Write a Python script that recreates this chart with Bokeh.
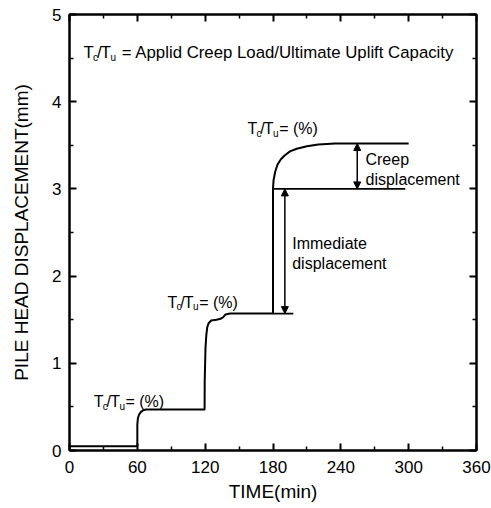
from bokeh.plotting import figure
from bokeh.models import (Range1d, LinearAxis, FixedTicker, Label, Arrow,
                          NormalHead)
from bokeh.embed import file_html
from bokeh.resources import INLINE

FONT = "Liberation Sans"

# Pile head displacement under staged creep loads (time in min, displacement in mm)
curve_time = [0, 60, 60, 60.5, 61.5, 63, 65, 67.5, 119.5,
              119.6, 120.3, 121.0, 121.8, 123.0, 125.3, 130.0, 133.6, 136.0,
              138.0, 142.0, 180.0,
              180.0, 180.5, 182.0, 184.0, 187.0, 190.0, 195.0, 201.0, 210.0,
              220.0, 235.0, 300.0]
curve_disp = [0.05, 0.05, 0.30, 0.37, 0.41, 0.44, 0.46, 0.47, 0.47,
              0.80, 1.18, 1.32, 1.41, 1.46, 1.49, 1.50, 1.51, 1.53,
              1.56, 1.57, 1.57,
              3.00, 3.10, 3.20, 3.28, 3.34, 3.38, 3.43, 3.46, 3.49,
              3.51, 3.52, 3.52]

# Reference levels used to mark immediate and creep displacement
ref_start_time = [180, 180]
ref_end_time = [198, 297]
ref_disp = [1.57, 3.00]

immediate_time = 190.5
immediate_from, immediate_to = 1.57, 3.00
creep_time = 254.5
creep_from, creep_to = 3.00, 3.52

x_ticks = [0, 60, 120, 180, 240, 300, 360]
x_minor = [30, 90, 150, 210, 270, 330]
y_ticks = [0, 1, 2, 3, 4, 5]
y_minor = [0.5, 1.5, 2.5, 3.5, 4.5]

p = figure(width=491, height=508, output_backend="svg", toolbar_location=None,
           x_range=Range1d(0, 360), y_range=Range1d(0, 5),
           x_axis_label="TIME(min)", y_axis_label="PILE HEAD DISPLACEMENT(mm)",
           min_border_left=69, min_border_right=15, min_border_top=14,
           min_border_bottom=58)
p.grid.visible = False
p.outline_line_color = "black"
p.outline_line_width = 2
p.background_fill_color = "white"
p.border_fill_color = "white"


def style_axis(ax, ticks, minor, show_labels=True):
    ax.ticker = FixedTicker(ticks=ticks, minor_ticks=minor)
    ax.axis_line_width = 2
    ax.major_tick_in = 7
    ax.major_tick_out = 0
    ax.minor_tick_in = 4
    ax.minor_tick_out = 0
    ax.major_tick_line_width = 2
    ax.minor_tick_line_width = 1.5
    ax.major_label_text_font = FONT
    ax.major_label_text_font_size = "17px"
    ax.major_label_text_color = "black"
    ax.axis_label_text_font = FONT
    ax.axis_label_text_font_size = "19px"
    ax.axis_label_text_font_style = "normal"
    ax.axis_label_text_color = "black"
    if not show_labels:
        ax.major_label_text_alpha = 0
        ax.major_label_text_font_size = "1px"


style_axis(p.xaxis[0], x_ticks, x_minor)
p.xaxis[0].major_label_standoff = 10
p.xaxis[0].axis_label_standoff = 5
style_axis(p.yaxis[0], y_ticks, y_minor)
p.yaxis[0].major_label_standoff = 8
p.yaxis[0].axis_label_standoff = 17

top_axis = LinearAxis()
style_axis(top_axis, x_ticks, x_minor, show_labels=False)
p.add_layout(top_axis, "above")
right_axis = LinearAxis()
style_axis(right_axis, y_ticks, y_minor, show_labels=False)
p.add_layout(right_axis, "right")

# Displacement curve
p.line(curve_time, curve_disp, line_color="black", line_width=2)

# Reference levels
p.segment(x0=ref_start_time, y0=ref_disp, x1=ref_end_time, y1=ref_disp,
          line_color="black", line_width=1.6)

# Double-headed dimension arrows
for t, d0, d1 in [(immediate_time, immediate_from, immediate_to),
                  (creep_time, creep_from, creep_to)]:
    p.add_layout(Arrow(start=NormalHead(size=7, fill_color="black", line_color="black"),
                       end=NormalHead(size=7, fill_color="black", line_color="black"),
                       x_start=t, y_start=d0, x_end=t, y_end=d1,
                       line_width=1.5, line_color="black"))


def text(t, d, s, size=16, dx=0, dy=0):
    p.add_layout(Label(x=t, y=d, x_offset=dx, y_offset=dy, text=s,
                       text_font=FONT, text_font_size=f"{size}px",
                       text_color="black", text_baseline="alphabetic"))


def ratio_label(t, d, tail, size, gap=0.0):
    s = size
    sub = round(0.62 * s)
    text(t, d, "T", s)
    text(t, d, "c", sub, dx=0.56 * s, dy=-0.28 * s)
    text(t, d, "/", s, dx=0.80 * s)
    text(t, d, "T", s, dx=1.02 * s)
    text(t, d, "u", sub, dx=1.60 * s, dy=-0.28 * s)
    text(t, d, tail, s, dx=1.98 * s + gap)


ratio_label(12.4, 4.56, "= Applid Creep Load/Ultimate Uplift Capacity", 16.8, gap=5)
ratio_label(157.4, 3.69, "= (%)", 16)
ratio_label(86.7, 1.70, "= (%)", 16)
ratio_label(21.5, 0.56, "= (%)", 16)

text(261.8, 3.34, "Creep")
text(261.8, 3.11, "displacement")
text(197.0, 2.37, "Immediate")
text(197.0, 2.14, "displacement")

open("out.html", "w").write(file_html(p, INLINE))
